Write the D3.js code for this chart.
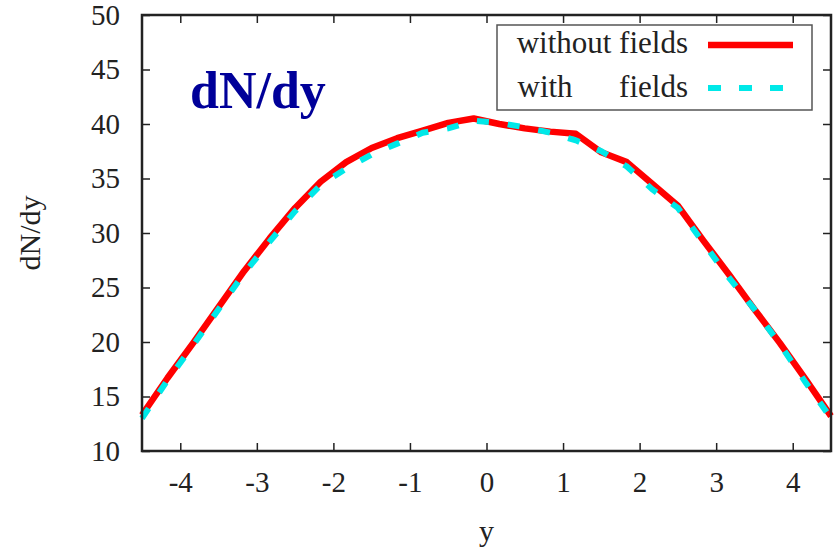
<!DOCTYPE html>
<html>
<head>
<meta charset="utf-8">
<script src="https://cdn.jsdelivr.net/npm/d3@7"></script>
<style>
  body { margin: 0; background: #fff; }
  text { font-family: "Liberation Serif", "Times New Roman", serif; fill: #222; }
</style>
</head>
<body>
<div id="chart"></div>
<script>
// rapidity bins and dN/dy values
var yBins = [-4.5, -4.167, -3.833, -3.5, -3.167, -2.833, -2.5, -2.167, -1.833, -1.5,
             -1.167, -0.833, -0.5, -0.167, 0.167, 0.5, 0.833, 1.167, 1.5, 1.833,
             2.167, 2.5, 2.833, 3.167, 3.5, 3.833, 4.167, 4.5];
var withoutFields = [13.3, 16.7, 19.9, 23.2, 26.5, 29.5, 32.3, 34.7, 36.5, 37.8,
                     38.7, 39.4, 40.1, 40.5, 40.0, 39.6, 39.3, 39.1, 37.4, 36.5,
                     34.5, 32.5, 29.3, 26.2, 23.0, 19.9, 16.6, 13.2];
var withFields = [13.0, 16.5, 19.7, 23.0, 26.3, 29.2, 32.0, 34.4, 35.9, 37.2,
                  38.2, 39.2, 39.6, 40.3, 40.1, 39.7, 39.2, 38.5, 37.5, 36.1,
                  34.0, 32.3, 29.1, 25.9, 23.0, 19.8, 16.3, 13.0];
var xTicks = [-4, -3, -2, -1, 0, 1, 2, 3, 4];
var yTicks = [10, 15, 20, 25, 30, 35, 40, 45, 50];
var legendLabels = ["without fields", "with      fields"];

var W = 838, H = 554;
var margin = {left: 142, right: 7, top: 15, bottom: 103};

var svg = d3.select("#chart").append("svg")
    .attr("width", W)
    .attr("height", H);

var x = d3.scaleLinear().domain([-4.5, 4.5]).range([margin.left, W - margin.right]);
var y = d3.scaleLinear().domain([10, 50]).range([H - margin.bottom, margin.top]);

// plain hyphen for negatives, like the original
var fmt = function(d){ return String(d); };

// tick marks on all four sides, pointing inward (gnuplot style)
var tickLen = 8;
svg.append("g")
    .attr("transform", "translate(0," + y(10) + ")")
    .call(d3.axisBottom(x).tickValues(xTicks).tickFormat(fmt).tickSizeInner(-tickLen).tickSizeOuter(0).tickPadding(20))
    .call(g => g.select(".domain").remove());
svg.append("g")
    .attr("transform", "translate(0," + y(50) + ")")
    .call(d3.axisTop(x).tickValues(xTicks).tickSizeInner(-tickLen).tickSizeOuter(0).tickFormat(""))
    .call(g => g.select(".domain").remove());
svg.append("g")
    .attr("transform", "translate(" + x(-4.5) + ",0)")
    .call(d3.axisLeft(y).tickValues(yTicks).tickFormat(fmt).tickSizeInner(-tickLen).tickSizeOuter(0).tickPadding(22))
    .call(g => g.select(".domain").remove());
svg.append("g")
    .attr("transform", "translate(" + x(4.5) + ",0)")
    .call(d3.axisRight(y).tickValues(yTicks).tickSizeInner(-tickLen).tickSizeOuter(0).tickFormat(""))
    .call(g => g.select(".domain").remove());

svg.selectAll(".tick line").attr("stroke", "#222").attr("stroke-width", 1.5);
svg.selectAll(".tick text")
    .style("font-family", "'Liberation Serif', serif")
    .style("font-size", "29px")
    .attr("fill", "#222");

// the curves
var line = d3.line()
    .x(function(d){ return x(d[0]); })
    .y(function(d){ return y(d[1]); });

svg.append("path")
    .datum(d3.zip(yBins, withoutFields))
    .attr("d", line)
    .attr("fill", "none")
    .attr("stroke", "#ff0000")
    .attr("stroke-width", 6.5)
    .attr("stroke-linejoin", "round");

svg.append("path")
    .datum(d3.zip(yBins, withFields))
    .attr("d", line)
    .attr("fill", "none")
    .attr("stroke", "#00e8e8")
    .attr("stroke-width", 6)
    .attr("stroke-dasharray", "12,19");

// frame
svg.append("rect")
    .attr("x", x(-4.5))
    .attr("y", y(50))
    .attr("width", x(4.5) - x(-4.5))
    .attr("height", y(10) - y(50))
    .attr("fill", "none")
    .attr("stroke", "#222")
    .attr("stroke-width", 2.5);

// legend
svg.append("rect")
    .attr("x", 497).attr("y", 25)
    .attr("width", 315).attr("height", 85)
    .attr("fill", "#fff")
    .attr("stroke", "#555")
    .attr("stroke-width", 1.5);

var rows = [53, 97];
legendLabels.forEach(function(lab, i){
    svg.append("text")
        .attr("x", 688).attr("y", rows[i])
        .attr("text-anchor", "end")
        .style("font-size", "31px")
        .style("white-space", "pre")
        .text(lab);
});
svg.append("line")
    .attr("x1", 708).attr("x2", 793).attr("y1", 45).attr("y2", 45)
    .attr("stroke", "#ff0000").attr("stroke-width", 6.5);
svg.append("line")
    .attr("x1", 708).attr("x2", 793).attr("y1", 88).attr("y2", 88)
    .attr("stroke", "#00e8e8").attr("stroke-width", 6)
    .attr("stroke-dasharray", "13,18");

// titles
svg.append("text")
    .attr("x", 190).attr("y", 108)
    .style("font-size", "52px")
    .style("font-weight", "bold")
    .style("fill", "#000099")
    .text("dN/dy");

svg.append("text")
    .attr("transform", "translate(40,233) rotate(-90)")
    .attr("text-anchor", "middle")
    .style("font-size", "30px")
    .text("dN/dy");

svg.append("text")
    .attr("x", x(0)).attr("y", 541)
    .attr("text-anchor", "middle")
    .style("font-size", "30px")
    .text("y");
</script>
</body>
</html>
